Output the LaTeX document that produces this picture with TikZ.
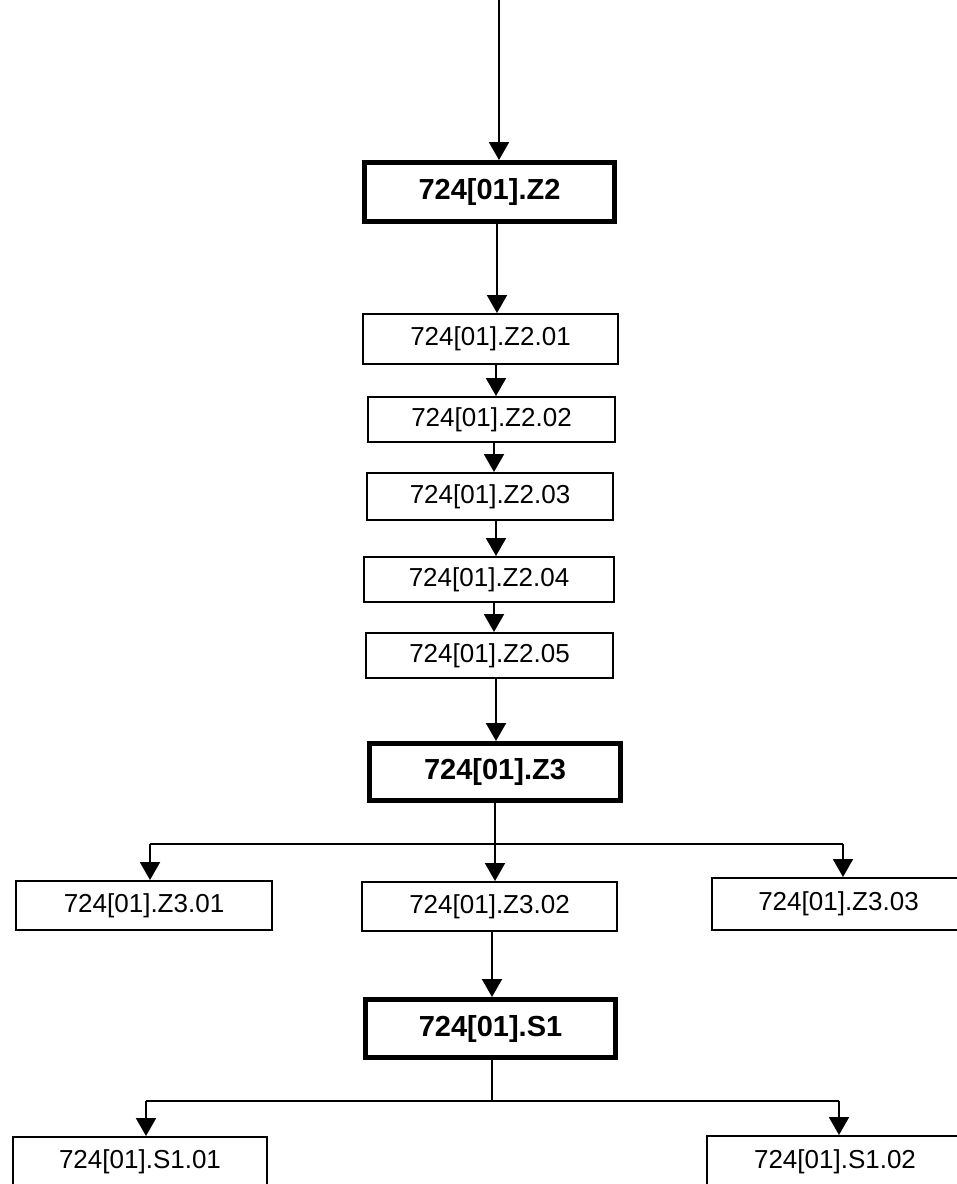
\documentclass[tikz,border=0pt]{standalone}
\usepackage{fontspec}
\setmainfont{Liberation Sans}
\usetikzlibrary{arrows.meta}
\begin{document}
\begin{tikzpicture}[x=1pt,y=-1pt,
  thinbox/.style={draw,line width=2pt,inner sep=0pt,font=\fontsize{26}{30}\selectfont},
  thickbox/.style={draw,line width=5pt,inner sep=0pt,font=\bfseries\fontsize{29}{33}\selectfont},
  conn/.style={line width=2pt},
  arr/.style={conn,-{Triangle[length=18pt,width=20pt]}}]
\useasboundingbox (0,0) rectangle (957,1184);
\clip (0,0) rectangle (957,1184);
% boxes
\node[thickbox,minimum width=250pt,minimum height=59pt] (Z2) at (489.5,192) {724[01].Z2};
\node[thinbox,minimum width=255pt,minimum height=50pt] (Z201) at (490.5,339) {724[01].Z2.01};
\node[thinbox,minimum width=247pt,minimum height=45pt] (Z202) at (491.5,419.5) {724[01].Z2.02};
\node[thinbox,minimum width=246pt,minimum height=47pt] (Z203) at (490,496.5) {724[01].Z2.03};
\node[thinbox,minimum width=250pt,minimum height=45pt] (Z204) at (489,579.5) {724[01].Z2.04};
\node[thinbox,minimum width=247pt,minimum height=45pt] (Z205) at (489.5,655.5) {724[01].Z2.05};
\node[thickbox,minimum width=251pt,minimum height=57pt] (Z3) at (495,772) {724[01].Z3};
\node[thinbox,minimum width=256pt,minimum height=49pt] (Z301) at (144,905.5) {724[01].Z3.01};
\node[thinbox,minimum width=255pt,minimum height=49pt] (Z302) at (489.5,906.5) {724[01].Z3.02};
\node[thinbox,minimum width=253pt,minimum height=52pt] (Z303) at (838.5,904) {724[01].Z3.03};
\node[thickbox,minimum width=250pt,minimum height=58pt] (S1) at (490.5,1028.5) {724[01].S1};
\node[thinbox,minimum width=254pt,minimum height=50pt] (S101) at (140,1162) {724[01].S1.01};
\node[thinbox,minimum width=256pt,minimum height=52pt] (S102) at (835,1162) {724[01].S1.02};
% column coordinates
\coordinate (top) at (499,0);
\coordinate (c1) at (497,0);
\coordinate (c2) at (496,0);
\coordinate (c3) at (494,0);
\coordinate (c4) at (496,0);
\coordinate (c5) at (494,0);
\coordinate (c6) at (496,0);
\coordinate (b1) at (495,844);
\coordinate (b2) at (492,1101);
\coordinate (l1) at (150,0);
\coordinate (r1) at (843,0);
\coordinate (l2) at (146,0);
\coordinate (r2) at (839,0);
% connectors
\draw[arr] (top) -- (Z2.north -| top);
\draw[arr] (Z2.south -| c1) -- (Z201.north -| c1);
\draw[arr] (Z201.south -| c2) -- (Z202.north -| c2);
\draw[arr] (Z202.south -| c3) -- (Z203.north -| c3);
\draw[arr] (Z203.south -| c4) -- (Z204.north -| c4);
\draw[arr] (Z204.south -| c5) -- (Z205.north -| c5);
\draw[arr] (Z205.south -| c6) -- (Z3.north -| c6);
\draw[conn] (Z3.south -| b1) -- (b1);
\draw[conn] (b1 -| l1) -- (b1 -| r1);
\draw[arr] (b1 -| l1) -- (Z301.north -| l1);
\draw[arr] (b1) -- (Z302.north -| b1);
\draw[arr] (b1 -| r1) -- (Z303.north -| r1);
\draw[arr] (Z302.south -| b2) -- (S1.north -| b2);
\draw[conn] (S1.south -| b2) -- (b2);
\draw[conn] (b2 -| l2) -- (b2 -| r2);
\draw[arr] (b2 -| l2) -- (S101.north -| l2);
\draw[arr] (b2 -| r2) -- (S102.north -| r2);
\end{tikzpicture}
\end{document}
